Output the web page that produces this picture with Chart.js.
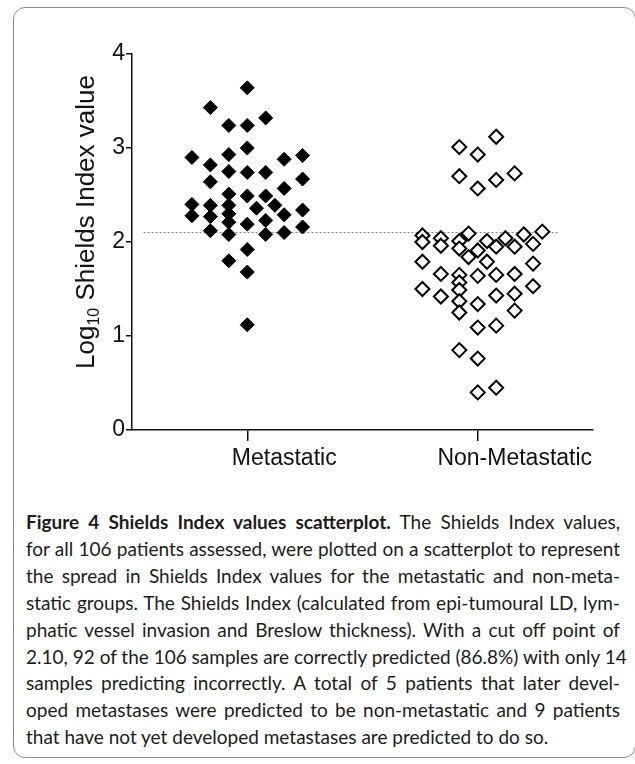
<!DOCTYPE html>
<html>
<head>
<meta charset="utf-8">
<script src="https://cdn.jsdelivr.net/npm/chart.js@4.4.0/dist/chart.umd.min.js"></script>
<style>
  html, body { margin:0; padding:0; background:#fff; }
  body { width:635px; height:764px; position:relative; overflow:hidden; }
  #frame { position:absolute; left:13px; top:7px; width:623px; height:751px;
    border:1px solid #8c8c8c; border-radius:12px; box-sizing:border-box; }
  #plot { position:absolute; left:0; top:0; }
  #caption { position:absolute; left:26px; top:509px; width:594px;
    font-family:Lato, "Noto Sans", sans-serif; font-size:19px; line-height:26.9px; color:#1c1c1c; }
  #caption div { white-space:nowrap; text-align:justify; text-align-last:justify; }
  #caption div.last { text-align-last:left; }
</style>
</head>
<body>
<div id="frame"></div>
<canvas id="plot" width="635" height="490"></canvas>
<div id="caption">
  <div><b>Figure 4 Shields Index values scatterplot.</b> The Shields Index values,</div>
  <div>for all 106 patients assessed, were plotted on a scatterplot to represent</div>
  <div>the spread in Shields Index values for the metastatic and non-meta-</div>
  <div>static groups. The Shields Index (calculated from epi-tumoural LD, lym-</div>
  <div>phatic vessel invasion and Breslow thickness). With a cut off point of</div>
  <div>2.10, 92 of the 106 samples are correctly predicted (86.8%) with only 14</div>
  <div>samples predicting incorrectly. A total of 5 patients that later devel-</div>
  <div>oped metastases were predicted to be non-metastatic and 9 patients</div>
  <div class="last">that have not yet developed metastases are predicted to do so.</div>
</div>
<script>
// groups on the x axis
const categories = ['Metastatic', 'Non-Metastatic'];
const yTicks = [0, 1, 2, 3, 4];
const cutoff = 2.10;
const cutoffSpan = [0.05, 1.85];

// log10 Shields Index per patient, with the column each diamond sits in (scatter spread)
const metastaticValues = [
  2.90, 2.40, 2.28,
  3.43, 2.82, 2.64, 2.39, 2.27, 2.12,
  3.24, 2.93, 2.75, 2.51, 2.39, 2.30, 2.21, 2.08, 1.80,
  3.64, 3.24, 3.00, 2.74, 2.49, 2.19, 1.92, 1.68, 1.12,
  2.36,
  3.32, 2.74, 2.49, 2.23, 2.08,
  2.39,
  2.88, 2.57, 2.29, 2.10,
  2.92, 2.67, 2.34, 2.16
];
const metastaticColumns = [
  -3, -3, -3,
  -2, -2, -2, -2, -2, -2,
  -1, -1, -1, -1, -1, -1, -1, -1, -1,
  0, 0, 0, 0, 0, 0, 0, 0, 0,
  0.5,
  1, 1, 1, 1, 1,
  1.5,
  2, 2, 2, 2,
  3, 3, 3, 3
];
const nonMetValues = [
  2.07, 2.00, 1.79, 1.50,
  2.04, 1.96, 1.66, 1.42,
  3.01, 2.70, 2.01, 1.93, 1.65, 1.57, 1.49, 1.37, 1.25, 0.85,
  2.09, 1.84,
  2.93, 2.57, 1.91, 1.64, 1.34, 1.09, 0.76, 0.40,
  2.01, 1.79,
  3.12, 2.66, 1.95, 1.65, 1.43, 1.11, 0.45,
  2.04,
  2.73, 1.95, 1.66, 1.45, 1.27,
  2.08,
  1.98, 1.77, 1.53,
  2.11
];
const nonMetColumns = [
  -3, -3, -3, -3,
  -2, -2, -2, -2,
  -1, -1, -1, -1, -1, -1, -1, -1, -1, -1,
  -0.5, -0.5,
  0, 0, 0, 0, 0, 0, 0, 0,
  0.5, 0.5,
  1, 1, 1, 1, 1, 1, 1,
  1.5,
  2, 2, 2, 2, 2,
  2.5,
  3, 3, 3,
  3.5
];

const colStep = 0.08;
const toPoints = (vals, cols, gi) => vals.map((v, i) => ({ x: gi + 0.5 + cols[i] * colStep, y: v }));

const FONT = '"Liberation Sans", Arial, sans-serif';
const W = 635, H = 490;
const AREA_LEFT = 132, AREA_TOP = 54, AREA_RIGHT = 593, AREA_BOTTOM = 430;

// y title with a real subscript
const yTitle = {
  id: 'yTitle',
  afterDraw(chart) {
    const ctx = chart.ctx;
    const yc = (chart.chartArea.top + chart.chartArea.bottom) / 2 - 20;
    ctx.save();
    ctx.translate(94, yc);
    ctx.rotate(-Math.PI / 2);
    ctx.fillStyle = '#111';
    ctx.textBaseline = 'alphabetic';
    const big = '26px ' + FONT, small = '16px ' + FONT;
    ctx.font = big; const w1 = ctx.measureText('Log').width;
    const w3 = ctx.measureText(' Shields Index value').width;
    ctx.font = small; const w2 = ctx.measureText('10').width;
    let x = -(w1 + w2 + w3) / 2;
    ctx.font = big; ctx.fillText('Log', x, 0); x += w1;
    ctx.font = small; ctx.fillText('10', x, 5); x += w2;
    ctx.font = big; ctx.fillText(' Shields Index value', x, 0);
    ctx.restore();
  }
};

new Chart(document.getElementById('plot'), {
  type: 'scatter',
  data: {
    datasets: [
      {
        label: 'cutoff', type: 'line', order: 3,
        data: cutoffSpan.map(x => ({ x: x, y: cutoff })),
        borderColor: '#7a7a7a', borderWidth: 1, borderDash: [2, 2], pointRadius: 0
      },
      {
        label: categories[0], order: 1,
        data: toPoints(metastaticValues, metastaticColumns, 0),
        pointStyle: 'rectRot', pointRadius: 7, backgroundColor: '#000', borderColor: '#000', borderWidth: 1
      },
      {
        label: categories[1], order: 2,
        data: toPoints(nonMetValues, nonMetColumns, 1),
        pointStyle: 'rectRot', pointRadius: 7, backgroundColor: '#fff', borderColor: '#000', borderWidth: 2
      }
    ]
  },
  options: {
    responsive: false, animation: false,
    layout: { padding: { left: 0, top: AREA_TOP, right: W - AREA_RIGHT, bottom: 0 } },
    plugins: { legend: { display: false }, tooltip: { enabled: false } },
    scales: {
      x: {
        type: 'linear', min: 0, max: categories.length,
        afterBuildTicks: s => { s.ticks = categories.map((c, i) => ({ value: i + 0.5 })); },
        afterFit: s => { s.height = H - AREA_BOTTOM; },
        ticks: {
          callback: v => categories[Math.round(v - 0.5)],
          font: { family: FONT, size: 23 }, color: '#111', padding: 4, labelOffset: 37, maxRotation: 0
        },
        grid: { drawOnChartArea: false, drawTicks: true, tickLength: 11, color: '#111', lineWidth: 1.5 },
        border: { display: true, color: '#111', width: 1.5 }
      },
      y: {
        min: 0, max: 4,
        afterBuildTicks: s => { s.ticks = yTicks.map(v => ({ value: v })); },
        afterFit: s => { s.width = AREA_LEFT; },
        ticks: { font: { family: FONT, size: 23 }, color: '#111', padding: 1 },
        grid: { drawOnChartArea: false, drawTicks: true, tickLength: 6, color: '#111', lineWidth: 1.5 },
        border: { display: true, color: '#111', width: 1.5 }
      }
    }
  },
  plugins: [yTitle]
});
</script>
</body>
</html>
